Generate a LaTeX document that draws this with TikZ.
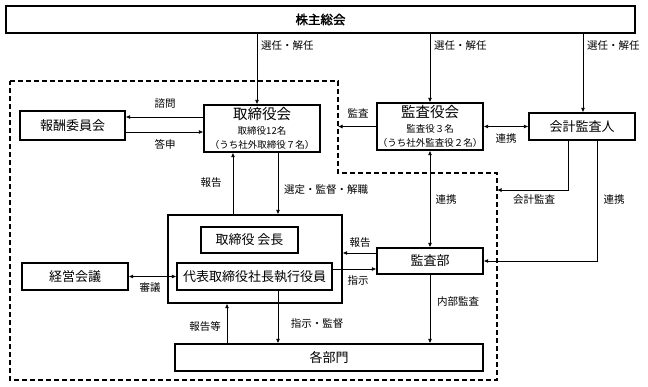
\documentclass[tikz,border=0pt]{standalone}
\usepackage{fontspec}
\newfontfamily\jp[AutoFakeBold=2]{Noto Sans CJK JP}
\usetikzlibrary{arrows.meta}
\tikzset{
  box/.style={draw,line width=1.2pt,inner sep=0pt,font=\jp\fontsize{13}{14}\selectfont},
  lbl/.style={inner sep=0pt,font=\jp\fontsize{10.5}{12}\selectfont},
  arr/.style={line width=0.8pt,-{Latex[length=4.5pt,width=4pt]}},
  dbl/.style={line width=0.8pt,{Latex[length=4.5pt,width=4pt]}-{Latex[length=4.5pt,width=4pt]}},
  border/.style={line width=1.3pt,dash pattern=on 5pt off 3pt}
}
\begin{document}
\begin{tikzpicture}[x=1pt,y=-1pt,line join=miter]
\path[use as bounding box] (0,0) rectangle (648,386);
% boxes
\node[box,minimum width=629pt,minimum height=27pt,font=\jp\bfseries\fontsize{12.5}{14}\selectfont] (soukai) at (320.5,19.5) {株主総会};
\node[box,minimum width=116pt,minimum height=47pt,align=center] (torishimari) at (262,128.5)
  {{\fontsize{14.5}{16}\selectfont 取締役会}\\[1pt]{\fontsize{9.5}{11}\selectfont 取締役12名}\\{\fontsize{9.5}{11}\selectfont （うち社外取締役７名）}};
\node[box,minimum width=105pt,minimum height=29pt] (houshu) at (72.5,125.5) {報酬委員会};
\node[box,minimum width=106pt,minimum height=47pt,align=center] (kansayaku) at (430,126.5)
  {{\fontsize{14.5}{16}\selectfont 監査役会}\\[1pt]{\fontsize{9.5}{11}\selectfont 監査役３名}\\{\fontsize{9.5}{11}\selectfont （うち社外監査役２名）}};
\node[box,minimum width=106pt,minimum height=27pt] (kaikei) at (582,126.5) {会計監査人};
\node[box,minimum width=174pt,minimum height=88pt] (bigbox) at (255,259) {};
\node[box,minimum width=97pt,minimum height=26pt] (kaicho) at (249.5,240) {取締役 会長};
\node[box,minimum width=155pt,minimum height=27pt] (shacho) at (254.5,276.5) {代表取締役社長執行役員};
\node[box,minimum width=106pt,minimum height=27pt] (keiei) at (75,276.5) {経営会議};
\node[box,minimum width=106pt,minimum height=26pt] (kansabu) at (430,261) {監査部};
\node[box,minimum width=308pt,minimum height=27pt] (kakubumon) at (329,357.5) {各部門};
% dashed boundary
\draw[border] (10,81) -- (338,81) -- (338,173) -- (497,173) -- (497,380) -- (10,380) -- cycle;
\coordinate (kansaend) at (338,126.5);
\coordinate (kaikeiend) at (497,190);
% connectors
\draw[arr] (soukai.south -| 257,0) -- (torishimari.north -| 257,0);
\draw[arr] (soukai.south -| 430,0) -- (kansayaku.north);
\draw[arr] (soukai.south -| 583,0) -- (kaikei.north -| 583,0);
\node[lbl,anchor=west] at (261,46) {選任・解任};
\node[lbl,anchor=west] at (434,46) {選任・解任};
\node[lbl,anchor=west] at (587,46) {選任・解任};
\draw[arr] (torishimari.west |- 0,117) -- (houshu.east |- 0,117);
\node[lbl] at (165,104) {諮問};
\draw[arr] (houshu.east |- 0,132) -- (torishimari.west |- 0,132);
\node[lbl] at (165,144) {答申};
\draw[arr] (bigbox.north -| 233,0) -- (torishimari.south -| 233,0);
\node[lbl] at (211,183) {報告};
\draw[arr] (torishimari.south -| 278,0) -- (bigbox.north -| 278,0);
\node[lbl,anchor=west] at (284,190) {選定・監督・解職};
\draw[arr] (kansayaku.west) -- (kansaend);
\node[lbl] at (358,113) {監査};
\draw[dbl] (kansayaku.east) -- (kaikei.west);
\node[lbl] at (506,139) {連携};
\draw[arr] (kaikei.south -| 568,0) |- (kaikeiend);
\node[lbl] at (534,200) {会計監査};
\draw[arr] (kaikei.south -| 597,0) |- (kansabu.east);
\node[lbl] at (614,200) {連携};
\draw[dbl] (kansayaku.south) -- (kansabu.north);
\node[lbl] at (446,200) {連携};
\draw[arr] (kansabu.west |- 0,253) -- (bigbox.east |- 0,253);
\node[lbl] at (360,243) {報告};
\draw[arr] (shacho.east |- 0,269) -- (kansabu.west |- 0,269);
\node[lbl] at (358,281) {指示};
\draw[dbl] (keiei.east) -- (shacho.west);
\node[lbl] at (150,288) {審議};
\draw[arr] (kakubumon.north -| 227,0) -- (bigbox.south -| 227,0);
\node[lbl] at (205,327) {報告等};
\draw[arr] (shacho.south -| 278,0) -- (kakubumon.north -| 278,0);
\node[lbl] at (317,324) {指示・監督};
\draw[arr] (kansabu.south) -- (kakubumon.north -| 430,0);
\node[lbl] at (458,302) {内部監査};
\end{tikzpicture}
\end{document}
